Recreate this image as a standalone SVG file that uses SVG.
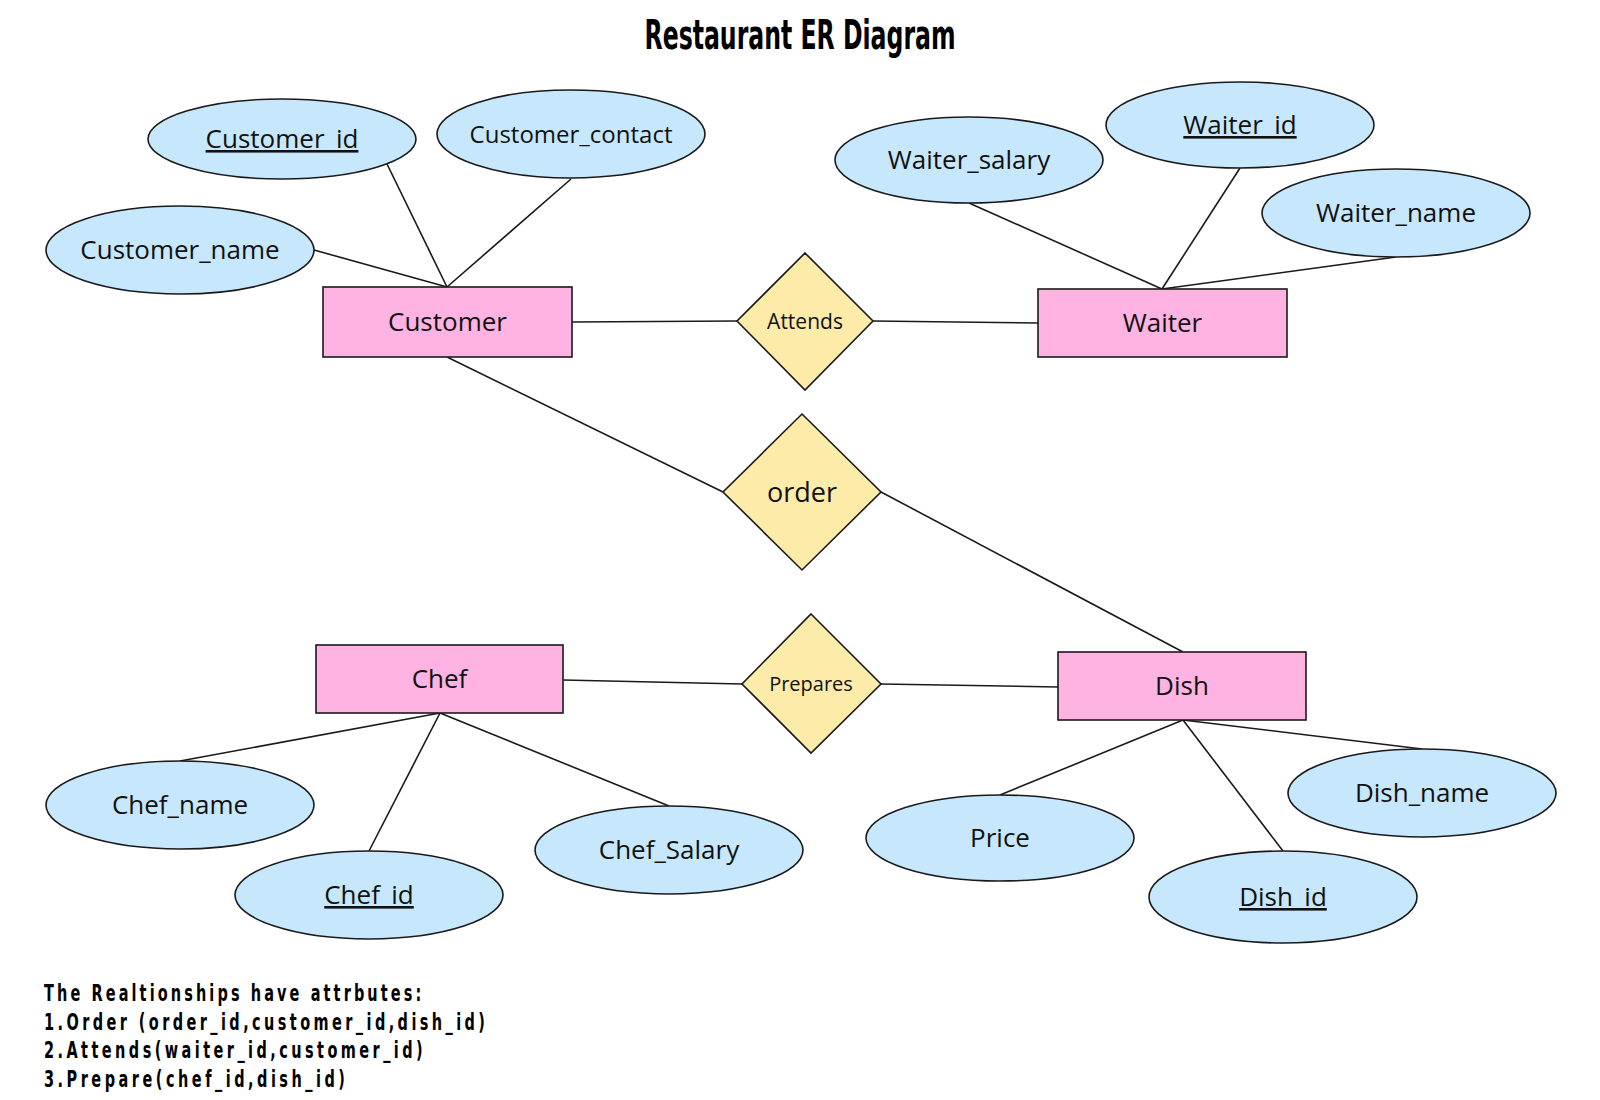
<svg xmlns="http://www.w3.org/2000/svg" width="1600" height="1100" viewBox="0 0 1600 1100">
<style>
.attr{fill:#c7e8fc;stroke:#1a1a1a;stroke-width:1.6}
.ent{fill:#feb3e2;stroke:#1a1a1a;stroke-width:1.6}
.rel{fill:#fdeba9;stroke:#1a1a1a;stroke-width:1.6}
.lbl{font-family:"Open Sans","DejaVu Sans",sans-serif;font-size:26px;fill:#111;text-anchor:middle}
.key{text-decoration:underline}
.edge{stroke:#1a1a1a;stroke-width:1.6;fill:none}
.title{font-family:"DejaVu Sans Condensed","DejaVu Sans",sans-serif;font-weight:bold;font-size:40px;fill:#000;text-anchor:middle}
.note{font-family:"DejaVu Sans Condensed","DejaVu Sans",sans-serif;font-weight:bold;font-size:23px;fill:#000}
</style>
<rect width="1600" height="1100" fill="#fff"/>
<text class="title" x="800" y="49" textLength="311" lengthAdjust="spacingAndGlyphs">Restaurant ER Diagram</text>
<g id="connectors">
<line class="edge" x1="314" y1="250" x2="447" y2="287"/>
<line class="edge" x1="387" y1="164" x2="447" y2="287"/>
<line class="edge" x1="571" y1="179" x2="447" y2="287"/>
<line class="edge" x1="572" y1="322" x2="737" y2="321"/>
<line class="edge" x1="873" y1="321" x2="1038" y2="323"/>
<line class="edge" x1="969" y1="203" x2="1162" y2="289"/>
<line class="edge" x1="1240" y1="168" x2="1162" y2="289"/>
<line class="edge" x1="1396" y1="257" x2="1162" y2="289"/>
<line class="edge" x1="447" y1="357" x2="723" y2="492"/>
<line class="edge" x1="881" y1="492" x2="1183" y2="652"/>
<line class="edge" x1="563" y1="680" x2="742" y2="684"/>
<line class="edge" x1="881" y1="684" x2="1058" y2="687"/>
<line class="edge" x1="440" y1="713" x2="180" y2="761"/>
<line class="edge" x1="440" y1="713" x2="369" y2="851"/>
<line class="edge" x1="440" y1="713" x2="669" y2="806"/>
<line class="edge" x1="1183" y1="720" x2="1000" y2="795"/>
<line class="edge" x1="1183" y1="720" x2="1283" y2="851"/>
<line class="edge" x1="1183" y1="720" x2="1422" y2="749"/>
</g>
<g id="customer"><rect class="ent" x="323" y="287" width="249" height="70"/><text class="lbl" x="447.5" y="331">Customer</text></g>
<g id="waiter"><rect class="ent" x="1038" y="289" width="249" height="68"/><text class="lbl" x="1162.5" y="332">Waiter</text></g>
<g id="chef"><rect class="ent" x="316" y="645" width="247" height="68"/><text class="lbl" x="439.5" y="688">Chef</text></g>
<g id="dish"><rect class="ent" x="1058" y="652" width="248" height="68"/><text class="lbl" x="1182" y="695">Dish</text></g>
<g id="attends"><polygon class="rel" points="805,253 873,321 805,390 737,321"/><text class="lbl" x="805" y="329" style="font-size:21px">Attends</text></g>
<g id="order"><polygon class="rel" points="802,414 881,492 802,570 723,492"/><text class="lbl" x="802" y="502" style="font-size:27px">order</text></g>
<g id="prepares"><polygon class="rel" points="811,614 881,684 811,753 742,684"/><text class="lbl" x="811" y="691" style="font-size:20px">Prepares</text></g>
<g id="customer_id"><ellipse class="attr" cx="282" cy="139" rx="134" ry="40"/><text class="lbl key" x="282" y="148">Customer_id</text></g>
<g id="customer_contact"><ellipse class="attr" cx="571" cy="134" rx="134" ry="44"/><text class="lbl" x="571" y="143" style="font-size:24px">Customer_contact</text></g>
<g id="customer_name"><ellipse class="attr" cx="180" cy="250" rx="134" ry="44"/><text class="lbl" x="180" y="259">Customer_name</text></g>
<g id="waiter_salary"><ellipse class="attr" cx="969" cy="160" rx="134" ry="43"/><text class="lbl" x="969" y="169">Waiter_salary</text></g>
<g id="waiter_id"><ellipse class="attr" cx="1240" cy="125" rx="134" ry="43"/><text class="lbl key" x="1240" y="134">Waiter_id</text></g>
<g id="waiter_name"><ellipse class="attr" cx="1396" cy="213" rx="134" ry="44"/><text class="lbl" x="1396" y="222">Waiter_name</text></g>
<g id="chef_name"><ellipse class="attr" cx="180" cy="805" rx="134" ry="44"/><text class="lbl" x="180" y="814">Chef_name</text></g>
<g id="chef_id"><ellipse class="attr" cx="369" cy="895" rx="134" ry="44"/><text class="lbl key" x="369" y="904">Chef_id</text></g>
<g id="chef_salary"><ellipse class="attr" cx="669" cy="850" rx="134" ry="44"/><text class="lbl" x="669" y="859">Chef_Salary</text></g>
<g id="price"><ellipse class="attr" cx="1000" cy="838" rx="134" ry="43"/><text class="lbl" x="1000" y="847">Price</text></g>
<g id="dish_name"><ellipse class="attr" cx="1422" cy="793" rx="134" ry="44"/><text class="lbl" x="1422" y="802">Dish_name</text></g>
<g id="dish_id"><ellipse class="attr" cx="1283" cy="897" rx="134" ry="46"/><text class="lbl key" x="1283" y="906">Dish_id</text></g>
<g id="notes">
<text class="note" transform="translate(44,1001) scale(0.7,1)" x="0" y="0" textLength="539" lengthAdjust="spacing">The Realtionships have attrbutes:</text>
<text class="note" transform="translate(44,1030) scale(0.7,1)" x="0" y="0" textLength="630" lengthAdjust="spacing">1.Order (order_id,customer_id,dish_id)</text>
<text class="note" transform="translate(44,1058) scale(0.7,1)" x="0" y="0" textLength="541" lengthAdjust="spacing">2.Attends(waiter_id,customer_id)</text>
<text class="note" transform="translate(44,1087) scale(0.7,1)" x="0" y="0" textLength="430" lengthAdjust="spacing">3.Prepare(chef_id,dish_id)</text>
</g>
</svg>
